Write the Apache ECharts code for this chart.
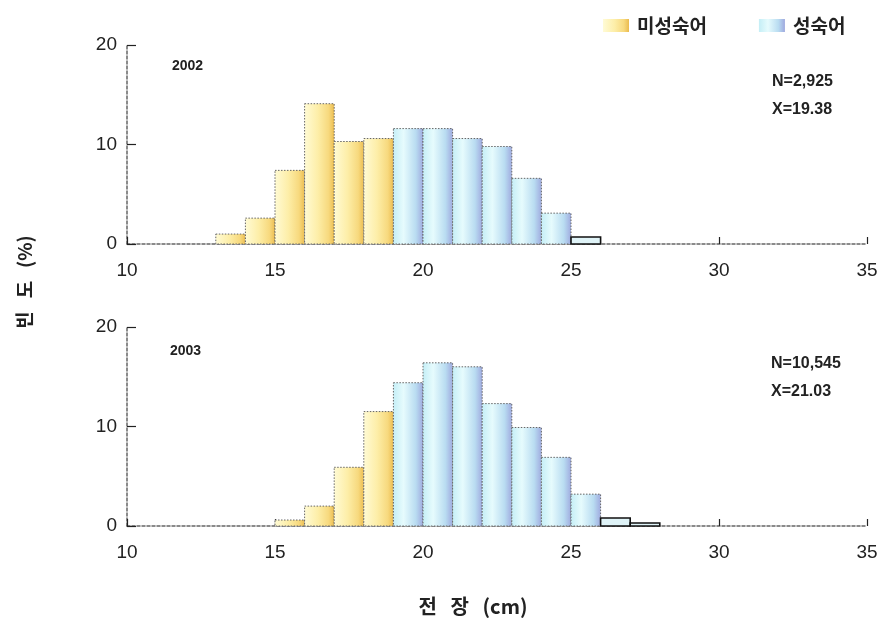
<!DOCTYPE html>
<html><head><meta charset="utf-8">
<script src="https://cdn.jsdelivr.net/npm/echarts@6/dist/echarts.min.js"></script>
<style>html,body{margin:0;padding:0;background:#fff}#c{width:882px;height:630px}</style>
</head><body><div id="c"></div>
<script>
// ---- data ----
const xTicks = [10, 15, 20, 25, 30, 35];
const yTicks = [0, 10, 20];
const binWidth = 1; // cm
// 2002
const immature2002Start = 13;
const immature2002 = [1.0, 2.6, 7.4, 14.1, 10.3, 10.6];
const mature2002Start = 19;
const mature2002 = [11.6, 11.6, 10.6, 9.8, 6.6, 3.1, 0.7];
// 2003
const immature2003Start = 15;
const immature2003 = [0.6, 2.0, 5.9, 11.5];
const mature2003Start = 19;
const mature2003 = [14.4, 16.4, 16.0, 12.3, 9.9, 6.9, 3.2, 0.8, 0.3];
const years = ['2002', '2003'];
const stats = [['N=2,925', 'X=19.38'], ['N=10,545', 'X=21.03']];
const legendNames = ['미성숙어', '성숙어'];

function toBins(start, vals) {
  return vals.map((v, i) => [start + i * binWidth, start + (i + 1) * binWidth, v]);
}

const yellowGrad = new echarts.graphic.LinearGradient(0, 0, 1, 0, [
  {offset: 0, color: '#fffbd6'}, {offset: 0.45, color: '#fdeea8'},
  {offset: 0.8, color: '#f7d97e'}, {offset: 1, color: '#ebbb4e'}]);
const blueGrad = new echarts.graphic.LinearGradient(0, 0, 1, 0, [
  {offset: 0, color: '#c4eef6'}, {offset: 0.35, color: '#e6fbfd'},
  {offset: 0.75, color: '#b9dcf1'}, {offset: 1, color: '#9ea8de'}]);

function makeRender(fill, isMature) {
  return function (params, api) {
    const x0 = api.value(0), x1 = api.value(1), v = api.value(2);
    const p0 = api.coord([x0, v]);
    const p1 = api.coord([x1, 0]);
    const tail = isMature && v < 1;
    return {
      type: 'rect',
      shape: {x: p0[0], y: p0[1], width: p1[0] - p0[0], height: p1[1] - p0[1]},
      style: tail ? {fill: '#dff3f7', stroke: '#111', lineWidth: 1.6}
                  : {fill: fill, stroke: '#666', lineWidth: 1, lineDash: [1.5, 1.5]}
    };
  };
}

const font = '"Liberation Sans", Arial, sans-serif';
const kfont = '"Noto Sans CJK KR", sans-serif';

const grids = [
  {left: 127, width: 740, top: 45, height: 199},
  {left: 127, width: 740, top: 327, height: 199}
];

function xAxis(i) {
  return {
    type: 'value', gridIndex: i, min: 10, max: 35, interval: 5,
    axisLine: {show: true, onZero: false, lineStyle: {color: '#666', width: 1.5, type: [3, 2]}},
    axisTick: {show: true, inside: true, length: 7, lineStyle: {color: '#222', width: 1.2}},
    axisLabel: {fontSize: 19, color: '#222', fontFamily: font, margin: 17},
    splitLine: {show: false}
  };
}
function yAxis(i) {
  return {
    type: 'value', gridIndex: i, min: 0, max: 20, interval: 10,
    axisLine: {show: true, lineStyle: {color: '#666', width: 1.5, type: [3, 2]}},
    axisTick: {show: true, inside: true, length: 9, lineStyle: {color: '#222', width: 1.2}},
    axisLabel: {fontSize: 19, color: '#222', fontFamily: font, margin: 10},
    splitLine: {show: false}
  };
}

const series = [];
const sets = [[immature2002Start, immature2002, mature2002Start, mature2002],
              [immature2003Start, immature2003, mature2003Start, mature2003]];
sets.forEach((s, i) => {
  series.push({name: legendNames[0], type: 'custom', xAxisIndex: i, yAxisIndex: i,
    renderItem: makeRender(yellowGrad, false), encode: {x: [0, 1], y: 2},
    itemStyle: {color: yellowGrad}, data: toBins(s[0], s[1])});
  series.push({name: legendNames[1], type: 'custom', xAxisIndex: i, yAxisIndex: i,
    renderItem: makeRender(blueGrad, true), encode: {x: [0, 1], y: 2},
    itemStyle: {color: blueGrad}, data: toBins(s[2], s[3])});
});

const graphics = [
  {type: 'text', left: 172, top: 59, style: {text: years[0], font: 'bold 14px ' + font, fill: '#222'}},
  {type: 'text', left: 170, top: 344, style: {text: years[1], font: 'bold 14px ' + font, fill: '#222'}},
  {type: 'text', left: 772, top: 74, style: {text: stats[0][0], font: 'bold 16px ' + font, fill: '#222'}},
  {type: 'text', left: 772, top: 102, style: {text: stats[0][1], font: 'bold 16px ' + font, fill: '#222'}},
  {type: 'text', left: 771, top: 356, style: {text: stats[1][0], font: 'bold 16px ' + font, fill: '#222'}},
  {type: 'text', left: 771, top: 384, style: {text: stats[1][1], font: 'bold 16px ' + font, fill: '#222'}},
  {type: 'text', x: 25, y: 282, rotation: Math.PI / 2,
    style: {text: '빈   도   (%)', font: 'bold 19px ' + kfont, fill: '#222', align: 'center', verticalAlign: 'middle'}},
  {type: 'text', x: 473, y: 606,
    style: {text: '전   장   (cm)', font: 'bold 20px ' + kfont, fill: '#222', align: 'center', verticalAlign: 'middle'}}
];

const chart = echarts.init(document.getElementById('c'), null, {renderer: 'canvas'});
chart.setOption({
  animation: false,
  backgroundColor: '#fff',
  grid: grids,
  xAxis: [xAxis(0), xAxis(1)],
  yAxis: [yAxis(0), yAxis(1)],
  legend: {
    data: legendNames, left: 598, top: 11, icon: 'rect', itemWidth: 26, itemHeight: 13,
    itemGap: 52, textStyle: {fontSize: 19, fontFamily: kfont, fontWeight: 'bold', color: '#222', padding: [0, 0, 0, 3]}
  },
  series: series,
  graphic: graphics
});
</script></body></html>
